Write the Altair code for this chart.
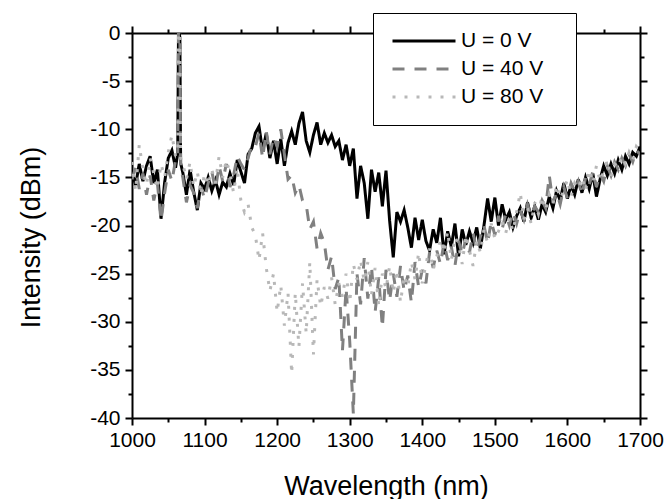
import altair as alt
import pandas as pd

# wavelength grid (nm)
wl = list(range(1000, 1061, 5)) + [1063, 1064, 1065, 1066, 1067] + list(range(1070, 1701, 5))

series_names = ["U = 0 V", "U = 40 V", "U = 80 V"]

u0 = ([-14.5, -15.8, -13.6, -15.4, -13.8, -12.8, -15.6, -14.2, -19.3, -15.5, -13.0, -12.2, -14.0]
      + [-12.5, -1.0, 0.0, -0.5, -13.5]
      + [-14.5, -16.8, -14.2, -16.5, -18.4, -15.6, -16.2, -15.0, -16.4, -15.3,
         -16.8, -15.5, -16.0, -14.6, -15.8, -13.2, -14.4, -15.6, -12.6, -12.0,
         -10.4, -9.7, -12.3, -10.4, -13.0, -11.2, -13.6, -11.0, -13.8, -11.4,
         -10.2, -11.6, -9.4, -8.2, -11.2, -12.4, -10.6, -9.3, -11.6, -10.4,
         -11.4, -10.6, -11.8, -11.2, -13.2, -11.6, -13.8, -12.0, -17.2, -13.8,
         -15.6, -19.3, -14.2, -16.5, -14.5, -18.0, -14.3, -19.5, -23.3, -18.6,
         -19.6, -18.4, -20.2, -22.3, -19.2, -21.5, -19.4, -21.6, -22.6, -20.4,
         -21.8, -19.2, -23.0, -20.6, -22.2, -19.8, -23.2, -20.4, -22.0, -20.6,
         -21.8, -20.2, -22.4, -20.0, -17.2, -19.6, -17.1, -20.0, -17.8, -19.4,
         -18.6, -20.2, -19.0, -18.2, -19.6, -17.6, -19.2, -18.0, -19.4, -17.8,
         -18.6, -17.0, -18.2, -16.4, -17.4, -15.6, -17.2, -15.8, -16.8, -15.2,
         -16.6, -15.0, -16.2, -14.6, -17.0, -15.2, -13.8, -14.8, -13.6, -14.6,
         -13.2, -14.2, -12.8, -13.6, -12.4, -12.8, -11.8])

u40 = ([-15.2, -14.0, -16.2, -14.6, -16.8, -14.8, -17.4, -15.6, -19.5, -16.6, -14.2, -15.4, -13.2]
       + [-13.0, 0.0, 0.0, 0.0, -14.0]
       + [-15.0, -17.6, -15.8, -16.6, -18.2, -16.0, -17.2, -15.6, -14.4, -16.2,
          -13.8, -15.4, -13.6, -16.0, -14.8, -12.8, -13.6, -14.2, -13.0, -11.6,
          -11.8, -10.4, -13.0, -10.2, -12.6, -10.8, -11.8, -10.0, -12.6, -15.2,
          -14.8, -16.6, -15.8, -17.4, -17.8, -20.4, -19.6, -22.4, -20.8, -21.8,
          -24.6, -23.2, -26.6, -25.4, -33.0, -26.5, -32.0, -39.6, -25.0, -28.2,
          -23.4, -27.6, -24.2, -29.0, -25.4, -30.6, -24.6, -27.8, -25.0, -27.4,
          -24.2, -26.8, -25.2, -28.0, -23.8, -26.4, -24.6, -26.0, -22.8, -24.4,
          -22.6, -24.0, -21.8, -23.6, -22.2, -24.2, -21.6, -23.0, -21.4, -22.8,
          -20.8, -22.6, -21.2, -20.0, -21.8, -19.6, -21.0, -19.0, -20.4, -18.8,
          -20.0, -18.6, -19.8, -18.4, -19.4, -17.8, -19.0, -18.0, -18.6, -17.4,
          -18.2, -14.8, -17.6, -16.6, -17.8, -16.0, -17.2, -15.6, -16.4, -15.4,
          -16.8, -15.0, -15.8, -14.4, -16.0, -14.6, -15.4, -13.8, -14.8, -13.4,
          -14.2, -13.0, -13.8, -12.6, -13.4, -12.2, -12.6])

u80 = ([-13.4, -16.4, -11.6, -14.2, -15.8, -13.0, -14.6, -16.2, -13.6, -15.0, -12.4, -10.6, -12.8]
       + [-12.0, 0.0, 0.0, 0.0, -13.0]
       + [-13.6, -15.2, -13.4, -16.0, -14.4, -16.8, -14.6, -15.8, -14.2, -15.6,
          -12.8, -15.0, -13.2, -14.6, -16.6, -14.0, -17.4, -18.6, -17.8, -20.2,
          -21.0, -23.6, -20.8, -24.4, -26.8, -25.0, -29.0, -26.2, -30.4, -27.0,
          -35.4, -27.0, -32.6, -26.0, -31.2, -23.8, -33.4, -25.6, -28.4, -26.4,
          -27.6, -25.4, -28.2, -26.0, -27.4, -25.0, -28.0, -24.0, -25.6, -23.6,
          -25.8, -23.8, -27.2, -24.4, -28.4, -25.0, -26.6, -24.2, -27.0, -24.6,
          -28.0, -25.2, -26.4, -23.8, -25.6, -22.8, -26.0, -24.0, -22.4, -24.6,
          -23.2, -21.4, -22.8, -20.6, -23.6, -21.2, -22.0, -24.0, -21.0, -22.6,
          -24.2, -21.6, -22.8, -20.4, -21.8, -19.8, -21.4, -20.6, -19.6, -20.8,
          -19.2, -20.6, -18.6, -16.6, -19.4, -18.2, -19.8, -17.6, -18.8, -17.0,
          -18.4, -16.8, -17.8, -15.8, -17.2, -16.4, -15.2, -17.0, -15.6, -16.2,
          -15.0, -16.4, -14.2, -15.6, -13.8, -15.4, -14.4, -13.2, -15.0, -13.6,
          -14.0, -12.8, -13.6, -12.4, -13.2, -11.8, -12.2])

x_major = [1000, 1100, 1200, 1300, 1400, 1500, 1600, 1700]
x_minor = [1050, 1150, 1250, 1350, 1450, 1550, 1650]
y_major = [-40, -35, -30, -25, -20, -15, -10, -5, 0]
y_minor = [-37.5, -32.5, -27.5, -22.5, -17.5, -12.5, -7.5, -2.5]

colors = ["#000000", "#808080", "#b8b8b8"]
dashes = [[1, 0], [12, 10], [3, 9]]

assert len(u0) == len(wl) and len(u40) == len(wl) and len(u80) == len(wl)

rows = []
for name, vals in zip(series_names, [u0, u40, u80]):
    for w, v in zip(wl, vals):
        rows.append({"wl": w, "val": v, "series": name})
df = pd.DataFrame(rows)

FONT = "Liberation Sans"
xs = alt.Scale(domain=[1000, 1700], nice=False, zero=False)
ys = alt.Scale(domain=[-40, 0], nice=False, zero=False)

common_axis = dict(grid=False, domainColor="black", domainWidth=2, tickColor="black",
                   tickWidth=2, labelColor="black", labelFont=FONT, labelFontSize=21,
                   titleColor="black", titleFont=FONT, titleFontSize=27,
                   titleFontWeight="normal", labelFlush=False, labelOverlap=False)

leg = alt.Legend(orient="none", legendX=241, legendY=-20, padding=14,
                 strokeColor="black", fillColor="white", symbolType="stroke",
                 symbolSize=3969, symbolStrokeWidth=3, clipHeight=28, rowPadding=0,
                 symbolOffset=4, titleOrient="right", titlePadding=15,
                 titleFont=FONT, titleFontSize=12, titleColor="white",
                 labelFont=FONT, labelFontSize=21, labelColor="black", labelOffset=4,
                 zindex=2)

lines = alt.Chart(df).mark_line(strokeWidth=3, clip=True).encode(
    x=alt.X("wl:Q", scale=xs, axis=alt.Axis(orient="bottom", values=x_major, tickSize=7,
            labelPadding=4, labelExpr="'' + datum.value",
            title="Wavelength (nm)", titleX=254, titleY=68,
            titleBaseline="middle", **common_axis)),
    y=alt.Y("val:Q", scale=ys, axis=alt.Axis(orient="left", values=y_major, tickSize=7,
            labelPadding=5, labelExpr="'' + datum.value",
            title="Intensity (dBm)", titleX=-101, titleY=204, titleBaseline="middle",
            **common_axis)),
    color=alt.Color("series:N", scale=alt.Scale(domain=series_names, range=colors),
                    legend=leg, title="."),
    strokeDash=alt.StrokeDash("series:N", scale=alt.Scale(domain=series_names, range=dashes),
                              legend=leg, title="."),
)

def ghost(xorient, yorient, xv, yv, size, domain):
    return alt.Chart(df).mark_point(opacity=0).encode(
        x=alt.X("wl:Q", scale=xs, axis=alt.Axis(orient=xorient, values=xv, tickSize=size,
                labels=False, title="", domain=domain, **common_axis)),
        y=alt.Y("val:Q", scale=ys, axis=alt.Axis(orient=yorient, values=yv, tickSize=size,
                labels=False, title="", domain=domain, **common_axis)),
    )

chart = alt.layer(
    lines,
    ghost("top", "right", x_major, y_major, 7, True),
    ghost("bottom", "left", x_minor, y_minor, 4, False),
    ghost("top", "right", x_minor, y_minor, 4, False),
).resolve_axis(x="independent", y="independent").properties(
    width=508, height=385,
    padding={"left": 132, "top": 33, "right": 31, "bottom": 81},
    autosize=alt.AutoSizeParams(type="none"),
).configure_view(stroke=None)

chart.save("out.html", embed_options={"renderer": "svg", "actions": False})
